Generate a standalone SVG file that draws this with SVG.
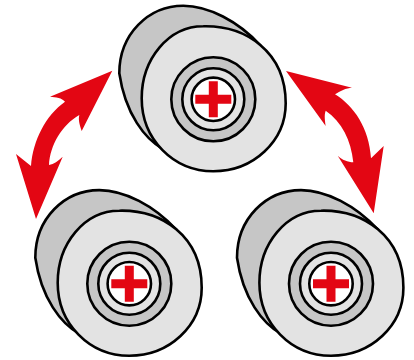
<svg xmlns="http://www.w3.org/2000/svg" width="414" height="360" viewBox="0 0 414 360">
<style>
.k{stroke:#000;stroke-width:2.6}
.b{fill:#c6c6c6}
.f{fill:#e3e3e3}
.w{fill:#fff}
.r{fill:#e30613}
</style>
<defs>
<g id="wheel">
<path class="k b" d="M-94,-26C-94,-65 -65,-93.6 -30,-93.6C-5,-93.6 25,-78 47,-54L0,0L-50,50C-68,40 -88,15 -94,-26Z" stroke-linejoin="round"/>
<path class="k f" d="M-71.6,-1C-71.6,-40 -45,-73 -10,-73C32,-74 72.4,-48 72.4,4C72.4,42 40,72 0,72C-40,72 -71.6,40 -71.6,-1Z"/>
<circle class="k b" r="42"/>
<circle class="k f" r="31"/>
<circle class="k w" r="21.7"/>
<path class="r" d="M-4.5,-18H4.5V-4.5H18V4.5H4.5V18H-4.5V4.5H-18V-4.5H-4.5Z"/>
</g>
</defs>
<g id="connectors">
<path class="r" d="M112.3,70.7L50,96.7C56,97 62,98 65,101.7C46,115 33,140 31,166L16,154L36,219L62.7,156.7C58,161 54,164 49,165C50,145 62,125 79.3,115C78,120 80,126 81.7,131Z"/>
<path class="r" d="M286,71L352,87.7C346,88 340,91 335,94.3C354,106 369,128 371,158.3L383.7,146L373.7,213.3L337.7,155.7C342,160 348,162 353.3,162.3C351,140 342,122 325.7,110.7C324,115 325,121 325.7,126Z"/>
</g>
<g id="wheel-top"><use href="#wheel" transform="translate(213.3,99.3)"/></g>
<g id="wheel-left"><use href="#wheel" transform="translate(129.3,283.7)"/></g>
<g id="wheel-right"><use href="#wheel" transform="translate(331,283.7)"/></g>
</svg>
